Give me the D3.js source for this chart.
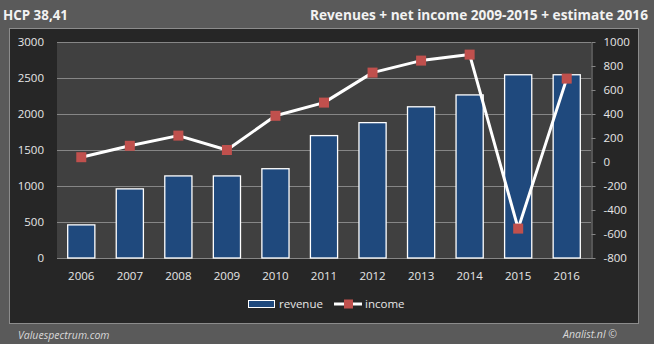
<!DOCTYPE html>
<html>
<head>
<meta charset="utf-8">
<script src="https://cdn.jsdelivr.net/npm/d3@7"></script>
<style>
  html, body { margin: 0; padding: 0; background: #5a5a5a; }
  svg { display: block; }
  text { font-family: "Open Sans", "DejaVu Sans", sans-serif; }
</style>
</head>
<body>
<script>
const years = ["2006","2007","2008","2009","2010","2011","2012","2013","2014","2015","2016"];
const revenue = [460, 960, 1140, 1140, 1240, 1700, 1880, 2100, 2265, 2545, 2545];
const income = [40, 135, 220, 100, 385, 495, 745, 845, 895, -555, 695];
const leftTicks = [0, 500, 1000, 1500, 2000, 2500, 3000];
const rightTicks = [-800, -600, -400, -200, 0, 200, 400, 600, 800, 1000];
const titleLeft = "HCP 38,41";
const titleRight = "Revenues + net income 2009-2015 + estimate 2016";
const footLeft = "Valuespectrum.com";
const footRight = "Analist.nl ©";
const seriesNames = ["revenue", "income"];

const W = 654, H = 344;
const plot = {x0: 57, x1: 591, y0: 42, y1: 258};
const fmt = d => String(d);

const svg = d3.select("body").append("svg").attr("width", W).attr("height", H);
svg.append("rect").attr("width", W).attr("height", H).attr("fill", "#5a5a5a");

// dark chart panel
svg.append("rect").attr("x", 9.5).attr("y", 28.5).attr("width", 629).attr("height", 295)
  .attr("fill", "#262626").attr("stroke", "#8c8c8c").attr("stroke-width", 1);

// plot area
svg.append("rect").attr("x", plot.x0).attr("y", plot.y0)
  .attr("width", plot.x1 - plot.x0).attr("height", plot.y1 - plot.y0).attr("fill", "#404040");

const x = d3.scaleBand().domain(years).range([plot.x0, plot.x1]).paddingInner(0.42).paddingOuter(0.21);
const yL = d3.scaleLinear().domain([0, 3000]).range([plot.y1, plot.y0]);
const yR = d3.scaleLinear().domain([-800, 1000]).range([plot.y1, plot.y0]);

// gridlines
svg.append("g").selectAll("line").data(leftTicks).join("line")
  .attr("x1", plot.x0).attr("x2", plot.x1)
  .attr("y1", d => Math.round(yL(d)) + 0.5).attr("y2", d => Math.round(yL(d)) + 0.5)
  .attr("stroke", "#868686").attr("stroke-width", 1);

// left axis
const gL = svg.append("g").attr("transform", `translate(${plot.x0},0)`)
  .call(d3.axisLeft(yL).tickValues(leftTicks).tickFormat(fmt).tickSize(0).tickPadding(13));
gL.select(".domain").remove();
gL.selectAll("text").attr("fill", "#e6e6e6").style("font-size", "11.5px")
  .style("font-family", "'Open Sans', sans-serif");

// right axis
const gR = svg.append("g").attr("transform", `translate(${plot.x1 + 0.5},0)`)
  .call(d3.axisRight(yR).tickValues(rightTicks).tickFormat(fmt).tickSize(4).tickPadding(8).tickSizeOuter(0));
gR.select(".domain").attr("stroke", "#868686");
gR.selectAll(".tick line").attr("stroke", "#868686");
gR.selectAll("text").attr("fill", "#e6e6e6").style("font-size", "11.5px")
  .style("font-family", "'Open Sans', sans-serif");

// bottom axis
const gB = svg.append("g").attr("transform", `translate(0,${plot.y1 + 0.5})`)
  .call(d3.axisBottom(x).tickSize(0).tickPadding(13));
gB.select(".domain").attr("stroke", "#868686").attr("d", `M${plot.x0},0H${plot.x1 + 4}`);
gB.selectAll("text").attr("fill", "#e6e6e6").style("font-size", "11.5px")
  .style("font-family", "'Open Sans', sans-serif");

// bars
svg.append("g").selectAll("rect").data(years).join("rect")
  .attr("x", d => x(d) + 0.5)
  .attr("y", (d, i) => yL(revenue[i]))
  .attr("width", x.bandwidth() - 1)
  .attr("height", (d, i) => yL(0) - yL(revenue[i]))
  .attr("fill", "#1f497d").attr("stroke", "#ffffff").attr("stroke-width", 1.3);

// income line
const line = d3.line().x((d, i) => x(years[i]) + x.bandwidth() / 2).y(d => yR(d));
svg.append("path").datum(income).attr("d", line)
  .attr("fill", "none").attr("stroke", "#ffffff").attr("stroke-width", 3).attr("stroke-linejoin", "round");

const ms = 10;
svg.append("g").selectAll("rect").data(income).join("rect")
  .attr("x", (d, i) => x(years[i]) + x.bandwidth() / 2 - ms / 2)
  .attr("y", d => yR(d) - ms / 2)
  .attr("width", ms).attr("height", ms)
  .attr("fill", "#c0504d");

// legend
const lg = svg.append("g");
lg.append("rect").attr("x", 248.5).attr("y", 300.5).attr("width", 26).attr("height", 7)
  .attr("fill", "#1f497d").attr("stroke", "#ffffff").attr("stroke-width", 1);
lg.append("text").attr("x", 279).attr("y", 308).text(seriesNames[0])
  .attr("fill", "#e6e6e6").style("font-size", "11.5px");
lg.append("line").attr("x1", 334).attr("x2", 362).attr("y1", 304).attr("y2", 304)
  .attr("stroke", "#ffffff").attr("stroke-width", 3);
lg.append("rect").attr("x", 344).attr("y", 299.5).attr("width", 9).attr("height", 9).attr("fill", "#c0504d");
lg.append("text").attr("x", 365).attr("y", 308).text(seriesNames[1])
  .attr("fill", "#e6e6e6").style("font-size", "11.5px");

// titles
svg.append("text").attr("x", 3).attr("y", 19.5).text(titleLeft)
  .attr("fill", "#f2f2f2").style("font-size", "13.5px").style("font-weight", "bold")
  .attr("textLength", 65).attr("lengthAdjust", "spacingAndGlyphs");
svg.append("text").attr("x", 310).attr("y", 19.5).text(titleRight)
  .attr("fill", "#f2f2f2").style("font-size", "13.5px").style("font-weight", "bold")
  .attr("textLength", 338).attr("lengthAdjust", "spacingAndGlyphs");

// footers
svg.append("text").attr("x", 18).attr("y", 339).text(footLeft)
  .attr("fill", "#d9d9d9").style("font-size", "10.5px").style("font-style", "italic");
svg.append("text").attr("x", 617).attr("y", 338).attr("text-anchor", "end").text(footRight)
  .attr("fill", "#d9d9d9").style("font-size", "10.5px").style("font-style", "italic");
</script>
</body>
</html>
